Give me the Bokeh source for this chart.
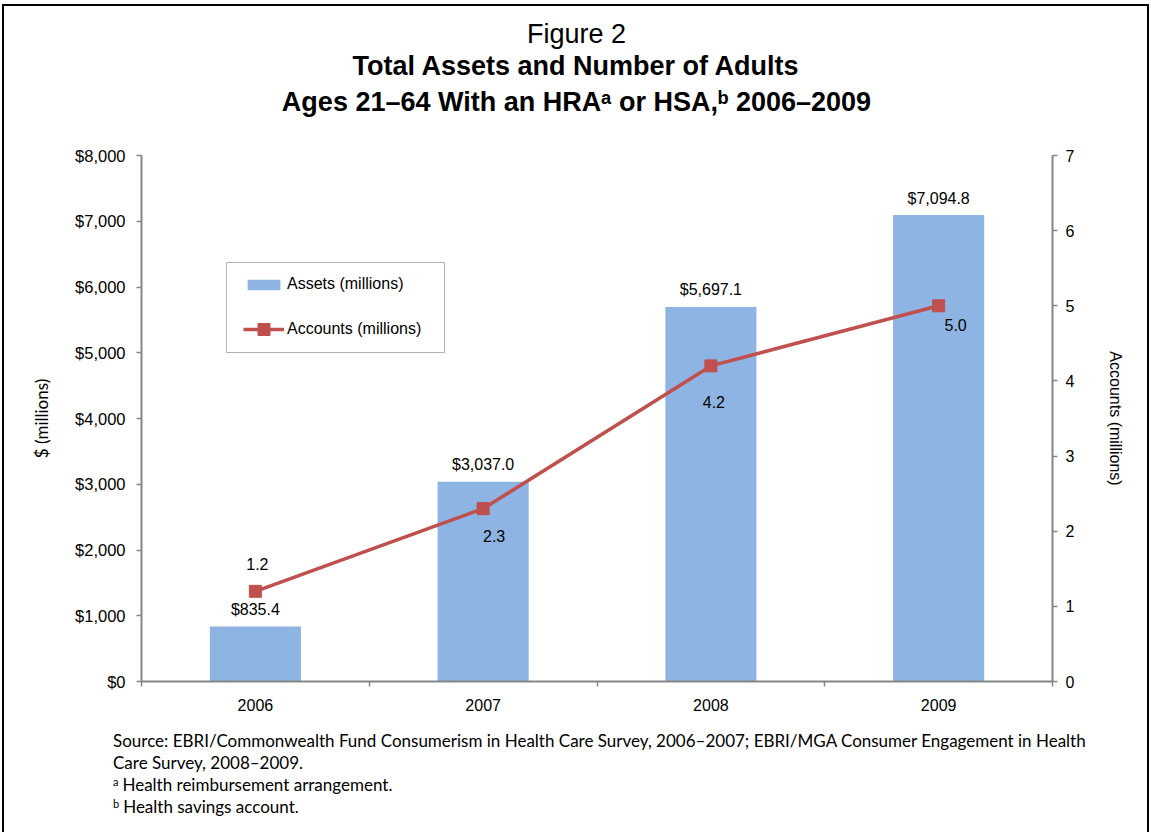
from bokeh.plotting import figure
from bokeh.layouts import column
from bokeh.models import (ColumnDataSource, FactorRange, Range1d, LinearAxis, CategoricalAxis,
                          FixedTicker, NumeralTickFormatter, Legend, LegendItem, LabelSet, Label,
                          BoxAnnotation, CustomJSTickFormatter, Div)
from bokeh.core.properties import value
from bokeh.embed import file_html
from bokeh.resources import INLINE

# ---------------- data ----------------
years = ["2006", "2007", "2008", "2009"]
assets = [835.4, 3037.0, 5697.1, 7094.8]          # $ millions
accounts = [1.2, 2.3, 4.2, 5.0]                   # millions
left_ticks = [0, 1000, 2000, 3000, 4000, 5000, 6000, 7000, 8000]
right_ticks = [0, 1, 2, 3, 4, 5, 6, 7]

title_1 = "Figure 2"
title_2 = "Total Assets and Number of Adults"
title_3 = "Ages 21\u201364 With an HRA\u1d43 or HSA,\u1d47 2006\u20132009"
source_1 = "Source: EBRI/Commonwealth Fund Consumerism in Health Care Survey, 2006\u20132007; EBRI/MGA Consumer Engagement in Health"
source_2 = "Care Survey, 2008\u20132009."
note_a = ("a", "Health reimbursement arrangement.")
note_b = ("b", "Health savings account.")

# ---------------- styling ----------------
BAR = "#8DB4E2"
LINE = "#C0504D"
AXIS = "#868686"
HELV = "Liberation Sans"
CAL = "Lato"
W = 1149
acc_dx = [2, 11, 3, 17]
acc_dy = [27, -27, -36, -19]

src = ColumnDataSource(dict(
    year=years,
    assets=assets,
    accounts=accounts,
    asset_lbl=["${:,.1f}".format(v) for v in assets],
    acc_lbl=["{:.1f}".format(v) for v in accounts],
    dx=acc_dx,
    dy=acc_dy,
))


def lab(f, x, y, text, size, font=HELV, style="normal", align="left"):
    f.add_layout(Label(x=x, y=y, x_units="screen", y_units="screen", text=text,
                       text_font=font, text_font_size=size, text_font_style=style,
                       text_align=align, text_baseline="middle", text_color="#000000"))


# ---------------- title panel (its frame aligns with the chart frame) ----------------
top = figure(width=W, height=143, x_range=(0, 1), y_range=(0, 1),
             x_axis_location=None, y_axis_location=None,
             output_backend="svg", toolbar_location=None,
             min_border_left=0, min_border_right=0, min_border_top=0, min_border_bottom=0)
top.border_fill_color = None
top.background_fill_color = None
top.outline_line_color = None
top.grid.visible = False
lab(top, 435, 110, title_1, "27px", align="center")
lab(top, 435, 78, title_2, "27px", style="bold", align="center")
lab(top, 435, 42, title_3, "27px", style="bold", align="center")

# ---------------- chart ----------------
p = figure(width=W, height=578, x_range=FactorRange(*years, range_padding=0),
           y_range=Range1d(0, 8000), x_axis_location=None,
           output_backend="svg", toolbar_location=None,
           min_border_left=141, min_border_right=97, min_border_top=12, min_border_bottom=40)
p.border_fill_color = None
p.background_fill_color = None
p.outline_line_color = None
p.xgrid.grid_line_color = None
p.ygrid.grid_line_color = None
p.extra_y_ranges = {"acc": Range1d(0, 7)}

ya = p.yaxis[0]
ya.ticker = FixedTicker(ticks=left_ticks)
ya.formatter = NumeralTickFormatter(format="$0,0")
ya.axis_label = "$ (millions)"

ra = LinearAxis(y_range_name="acc", ticker=FixedTicker(ticks=right_ticks),
                axis_label="Accounts (millions)")
p.add_layout(ra, "right")

# bottom: ticks at category boundaries, then category labels
ea = LinearAxis(ticker=FixedTicker(ticks=list(range(len(years) + 1))),
                formatter=CustomJSTickFormatter(code="return ''"))
p.add_layout(ea, "below")
ca = CategoricalAxis()
p.add_layout(ca, "below")

for ax in (ya, ra, ea):
    ax.axis_line_color = AXIS
    ax.axis_line_width = 2
    ax.major_tick_line_color = AXIS
    ax.major_tick_line_width = 1.5
    ax.major_tick_out = 5
    ax.major_tick_in = 0
    ax.minor_tick_line_color = None
for ax in (ya, ra, ca):
    ax.major_label_text_font = HELV
    ax.major_label_text_font_size = "16px"
    ax.major_label_text_color = "#000000"
ya.major_label_text_font_size = "16.5px"
ya.major_label_standoff = 11
ra.major_label_standoff = 8
ya.axis_label_text_font = CAL
ya.axis_label_text_font_size = "17px"
ya.axis_label_text_font_style = "normal"
ya.axis_label_text_color = "#000000"
ya.axis_label_standoff = 20
ra.axis_label_text_font = HELV
ra.axis_label_text_font_size = "16px"
ra.axis_label_text_font_style = "normal"
ra.axis_label_text_color = "#000000"
ra.axis_label_standoff = 30
ea.major_label_text_font_size = "0px"
ea.major_label_standoff = 0
ca.axis_line_color = None
ca.major_tick_line_color = None
ca.major_label_standoff = 6

bars = p.vbar(x="year", top="assets", width=0.4, source=src, fill_color=BAR, line_color=None)
ln = p.line(x="year", y="accounts", source=src, y_range_name="acc", line_color=LINE, line_width=3.5)
mk = p.scatter(x="year", y="accounts", source=src, y_range_name="acc", marker="square",
               size=12, fill_color=LINE, line_color=LINE)

p.add_layout(LabelSet(x="year", y="assets", text="asset_lbl", source=src, text_align="center",
                      text_baseline="middle", y_offset=17, text_font=value(HELV),
                      text_font_size="16px", text_color="#000000"))
p.add_layout(LabelSet(x="year", y="accounts", y_range_name="acc", text="acc_lbl", source=src,
                      x_offset="dx", y_offset="dy", text_align="center", text_baseline="middle",
                      text_font=value(HELV), text_font_size="16px", text_color="#000000"))

# legend (box + two single-item legends so that bar swatch and marker get their own sizes)
p.add_layout(BoxAnnotation(left=85, right=303, top=419, bottom=329,
                           left_units="screen", right_units="screen",
                           top_units="screen", bottom_units="screen",
                           fill_color="#ffffff", fill_alpha=1, line_color="#000000",
                           line_width=1, level="annotation"))
common = dict(orientation="vertical", padding=0, margin=0, glyph_width=41, label_height=20,
              label_standoff=3, label_text_font=HELV, label_text_font_size="16px",
              label_text_color="#000000", border_line_color=None, background_fill_alpha=0)
p.add_layout(Legend(items=[LegendItem(label="Assets (millions)", renderers=[bars])],
                    location=(102, 387), glyph_height=13, **common))
p.add_layout(Legend(items=[LegendItem(label="Accounts (millions)", renderers=[ln, mk])],
                    location=(102, 337), glyph_height=30, **common))

# ---------------- footnotes ----------------
line_css = "white-space:nowrap;height:22px;line-height:22px;"
sup_css = "font-size:11px;line-height:0;vertical-align:5px;margin-right:4px;"
foot_html = (
    '<div style="padding:9px 0 0 113px;font-family:\'Lato\';font-size:17px;color:#000;">'
    f'<div style="{line_css}">{source_1}</div>'
    f'<div style="{line_css}">{source_2}</div>'
    f'<div style="{line_css}"><span style="{sup_css}">{note_a[0]}</span>{note_a[1]}</div>'
    f'<div style="{line_css}"><span style="{sup_css}">{note_b[0]}</span>{note_b[1]}</div>'
    '</div>'
)
foot = Div(text=foot_html, width=W, height=111, margin=0)

frame_css = ("inset 2px 0 0 0 #fff, inset 0 4px 0 0 #fff, inset 4px 0 0 0 #000, "
             "inset 0 6px 0 0 #000, inset -2px 0 0 0 #000")
page = column(top, p, foot, spacing=0, styles={"box-shadow": frame_css})

open("out.html", "w").write(file_html(page, INLINE))
